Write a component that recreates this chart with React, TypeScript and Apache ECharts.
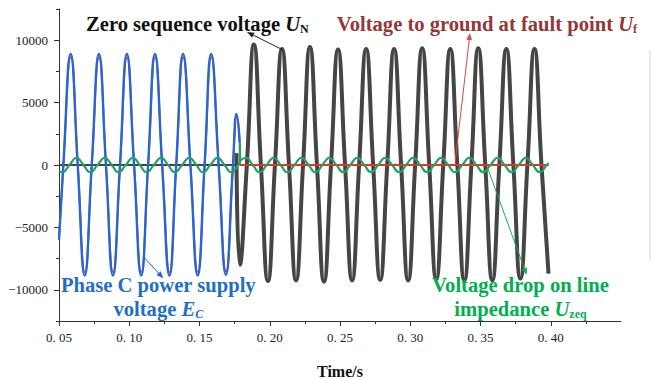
import React, { useEffect, useRef } from 'react';
import * as echarts from 'echarts';

// Axis ticks
const xMajorTicks = [0.05, 0.1, 0.15, 0.2, 0.25, 0.3, 0.35, 0.4];
const xMinorTicks = [0.075, 0.125, 0.175, 0.225, 0.275, 0.325, 0.375, 0.425];
const yMajorTicks = [-10000, -5000, 0, 5000, 10000];
const yMinorTicks = [-12500, -7500, -2500, 2500, 7500, 12500];

// Zero sequence voltage U_N before the fault (time s, voltage V)
const zeroSeqBefore: [number, number][] = [
  [0.05, 0], [0.1755, 0], [0.1763, 950],
];

// Zero sequence voltage U_N after the fault
const zeroSeqAfter: [number, number][] = [
  [0.1763, 950], [0.1787, -8000], [0.1837, 0], [0.1887, 9650], [0.1937, 0],
  [0.1987, -9300], [0.2037, 0], [0.2087, 9300], [0.2137, 0], [0.2187, -9250],
  [0.2237, 0], [0.2286, 9450], [0.2336, 0], [0.2386, -9350], [0.2436, 0],
  [0.2486, 9250], [0.2536, 0], [0.2586, -9250], [0.2636, 0], [0.2686, 9300],
  [0.2736, 0], [0.2786, -9200], [0.2836, 0], [0.2885, 9300], [0.2935, 0],
  [0.2985, -9250], [0.3035, 0], [0.3085, 9350], [0.3135, 0], [0.3185, -9150],
  [0.3235, 0], [0.3285, 9300], [0.3335, 0], [0.3385, -9250], [0.3435, 0],
  [0.3484, 9350], [0.3534, 0], [0.3584, -9250], [0.3634, 0], [0.3684, 9300],
  [0.3734, 0], [0.3784, -9100], [0.3834, 0], [0.3884, 9300], [0.3934, 0],
  [0.3984, -8700],
];

// Voltage to ground at the fault point U_f
const faultPoint: [number, number][] = [
  [0.05, -5800], [0.0531, 0], [0.0584, 8650], [0.0634, 0], [0.0684, -8600],
  [0.0734, 0], [0.0785, 8650], [0.0835, 0], [0.0885, -8600], [0.0935, 0],
  [0.0984, 8650], [0.1035, 0], [0.1086, -8600], [0.1135, 0], [0.1184, 8650],
  [0.1235, 0], [0.1287, -8600], [0.1335, 0], [0.1384, 8650], [0.1436, 0],
  [0.1488, -8600], [0.1537, 0], [0.1584, 8650], [0.1637, 0], [0.1689, -8550],
  [0.1739, 0], [0.1765, 3900], [0.1786, 1600], [0.1788, 0], [0.3985, 0],
];

// Phase C power supply voltage E_C
const phaseC: [number, number][] = [
  [0.05, -6000], [0.0531, 0], [0.0583, 8900], [0.0633, 0], [0.0683, -8850],
  [0.0733, 0], [0.0784, 8900], [0.0834, 0], [0.0884, -8850], [0.0934, 0],
  [0.0983, 8900], [0.1034, 0], [0.1085, -8850], [0.1134, 0], [0.1183, 8900],
  [0.1234, 0], [0.1286, -8850], [0.1334, 0], [0.1383, 8900], [0.1435, 0],
  [0.1487, -8850], [0.1536, 0], [0.1583, 8900], [0.1636, 0], [0.1688, -8800],
  [0.1738, 0], [0.1764, 4100], [0.1786, 1800],
];

// Voltage drop on the line impedance U_zeq
const lineDrop: [number, number][] = [
  [0.05, -480], [0.0523, -580], [0.0574, 0], [0.0625, 580], [0.0674, 0],
  [0.0723, -580], [0.0774, 0], [0.0826, 580], [0.0875, 0], [0.0924, -580],
  [0.0975, 0], [0.1026, 580], [0.1075, 0], [0.1124, -580], [0.1175, 0],
  [0.1227, 580], [0.1276, 0], [0.1325, -580], [0.1376, 0], [0.1428, 580],
  [0.1477, 0], [0.1526, -580], [0.1577, 0], [0.1629, 580], [0.1678, 0],
  [0.1727, -580], [0.1777, 0], [0.1787, 250], [0.1788, 1750], [0.1790, 350],
  [0.1830, 580], [0.1879, 0], [0.1928, -580], [0.1978, 0], [0.2028, 580],
  [0.2077, 0], [0.2126, -580], [0.2176, 0], [0.2226, 580], [0.2276, 0],
  [0.2325, -580], [0.2375, 0], [0.2425, 580], [0.2474, 0], [0.2524, -580],
  [0.2573, 0], [0.2623, 580], [0.2672, 0], [0.2722, -580], [0.2772, 0],
  [0.2822, 580], [0.2871, 0], [0.2921, -580], [0.2971, 0], [0.3021, 580],
  [0.3070, 0], [0.3120, -580], [0.3170, 0], [0.3220, 580], [0.3270, 0],
  [0.3319, -580], [0.3370, 0], [0.3421, 580], [0.3470, 0], [0.3520, -580],
  [0.3571, 0], [0.3622, 580], [0.3671, 0], [0.3721, -580], [0.3772, 0],
  [0.3823, 580], [0.3872, 0], [0.3922, -580], [0.3972, 0], [0.3985, 150],
];

const SERIF = '"Liberation Serif", "Times New Roman", serif';
const FS = 20.6;

const richStyles = (color: string) => ({
  t: { fontFamily: SERIF, fontSize: FS, fontWeight: 'bold', fill: color, lineHeight: 24 },
  u: { fontFamily: SERIF, fontSize: FS, fontWeight: 'bold', fontStyle: 'italic', fill: color, lineHeight: 24 },
  s: { fontFamily: SERIF, fontSize: 12, fontWeight: 'bold', fill: color, lineHeight: 12, verticalAlign: 'bottom', padding: [0, 0, 1, 0] },
  si: { fontFamily: SERIF, fontSize: 12, fontWeight: 'bold', fontStyle: 'italic', fill: color, lineHeight: 12, verticalAlign: 'bottom', padding: [0, 0, 1, 0] },
});

const label = (x: number, y: number, text: string, color: string, align: string) => ({
  type: 'text',
  x,
  y,
  z: 100,
  style: { text, rich: richStyles(color), align, verticalAlign: 'top' },
});

const arrow = (x1: number, y1: number, x2: number, y2: number, color: string) => {
  const len = Math.hypot(x2 - x1, y2 - y1);
  const ux = (x2 - x1) / len;
  const uy = (y2 - y1) / len;
  const head = 7;
  const half = 2.8;
  const bx = x2 - ux * head;
  const by = y2 - uy * head;
  return [
    {
      type: 'line',
      z: 100,
      shape: { x1, y1, x2: bx, y2: by },
      style: { stroke: color, lineWidth: 1 },
    },
    {
      type: 'polygon',
      z: 100,
      shape: {
        points: [
          [x2, y2],
          [bx - uy * half, by + ux * half],
          [bx + uy * half, by - ux * half],
        ],
      },
      style: { fill: color },
    },
  ];
};

const xLabel = (v: number) => v.toFixed(2).replace('.', '. ');
const yLabel = (v: number) => (v < 0 ? '\u2212' + Math.abs(v) : String(v));

export default function App() {
  const ref = useRef<HTMLDivElement>(null);

  useEffect(() => {
    document.body.style.margin = '0';
    const chart = echarts.init(ref.current!, null, { renderer: 'svg' });
    const axisColor = '#333';
    const tickFont = { fontFamily: SERIF, fontSize: 13, color: '#222' };

    chart.setOption({
      animation: false,
      backgroundColor: '#fff',
      grid: { left: 59, top: 9, right: 33, bottom: 58, containLabel: false, outerBoundsMode: 'none' },
      xAxis: [
        {
          type: 'value',
          min: 0.05,
          max: 0.45,
          interval: 0.05,
          axisLine: { show: true, onZero: false, lineStyle: { color: axisColor, width: 1 } },
          axisTick: { show: true, length: 5, customValues: xMajorTicks, lineStyle: { color: axisColor } },
          axisLabel: { ...tickFont, margin: 10, customValues: xMajorTicks, formatter: xLabel },
          splitLine: { show: false },
          name: 'Time/s',
          nameLocation: 'middle',
          nameGap: 42,
          nameTextStyle: { fontFamily: SERIF, fontSize: 16, fontWeight: 'bold', color: '#111' },
        },
        {
          type: 'value',
          position: 'bottom',
          min: 0.05,
          max: 0.45,
          interval: 0.025,
          axisLine: { show: false, onZero: false },
          axisTick: { show: true, length: 3, customValues: xMinorTicks, lineStyle: { color: axisColor } },
          axisLabel: { show: false },
          splitLine: { show: false },
        },
      ],
      yAxis: [
        {
          type: 'value',
          min: -12500,
          max: 12500,
          interval: 2500,
          axisLine: { show: true, onZero: false, lineStyle: { color: axisColor, width: 1 } },
          axisTick: { show: true, length: 5, customValues: yMajorTicks, lineStyle: { color: axisColor } },
          axisLabel: { ...tickFont, margin: 11, customValues: yMajorTicks, formatter: yLabel },
          splitLine: { show: false },
        },
        {
          type: 'value',
          position: 'left',
          min: -12500,
          max: 12500,
          interval: 2500,
          axisLine: { show: false, onZero: false },
          axisTick: { show: true, length: 3, customValues: yMinorTicks, lineStyle: { color: axisColor } },
          axisLabel: { show: false },
          splitLine: { show: false },
        },
      ],
      series: [
        {
          name: 'U_N',
          type: 'line',
          data: zeroSeqBefore,
          showSymbol: false,
          smooth: true,
          lineStyle: { color: '#444', width: 2 },
        },
        {
          name: 'U_N',
          type: 'line',
          data: zeroSeqAfter,
          showSymbol: false,
          smooth: true,
          lineStyle: { color: '#454545', width: 4 },
        },
        {
          name: 'U_f',
          type: 'line',
          data: faultPoint,
          showSymbol: false,
          smooth: true,
          lineStyle: { color: '#e8302c', width: 1.8 },
        },
        {
          name: 'E_C',
          type: 'line',
          data: phaseC,
          showSymbol: false,
          smooth: true,
          lineStyle: { color: '#2467d8', width: 2.4 },
        },
        {
          name: 'U_zeq',
          type: 'line',
          data: lineDrop,
          showSymbol: false,
          smooth: true,
          lineStyle: { color: '#22a35a', width: 2.2 },
        },
      ],
      graphic: [
        label(86, 11.75, '{t|Zero sequence voltage }{u|U}{s|N}', '#111', 'left'),
        label(336.7, 12.25, '{t|Voltage to ground at fault point }{u|U}{s|f}', '#953735', 'left'),
        label(158.3, 272.75, '{t|Phase C power supply}', '#1f6fc5', 'center'),
        label(158.3, 296.75, '{t|voltage }{u|E}{si|C}', '#1f6fc5', 'center'),
        label(520.5, 272.75, '{t|Voltage drop on line}', '#00b050', 'center'),
        label(520.5, 296.75, '{t|impedance }{u|U}{s|zeq}', '#00b050', 'center'),
        ...arrow(283, 50, 247, 32, '#222'),
        ...arrow(455, 163, 470, 33, '#e04545'),
        ...arrow(144.3, 257.7, 163.3, 278.3, '#2063c4'),
        ...arrow(488.3, 170, 526.7, 275, '#1aaa55'),
        {
          type: 'line',
          shape: { x1: 650, y1: 50, x2: 650, y2: 260 },
          style: { stroke: '#e4e4e4', lineWidth: 1.5 },
        },
      ],
    });

    return () => chart.dispose();
  }, []);

  return <div ref={ref} style={{ width: 654, height: 379 }} />;
}
